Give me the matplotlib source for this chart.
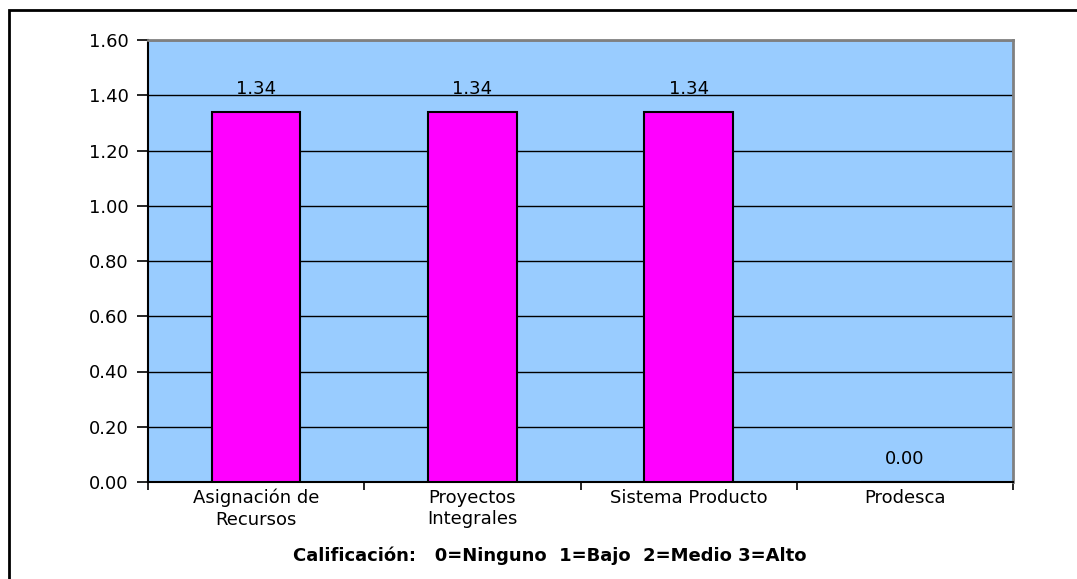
import matplotlib.pyplot as plt
from matplotlib.patches import Rectangle

plt.rcParams['font.family'] = ['DejaVu Sans']

programas = ['Asignación de\nRecursos', 'Proyectos\nIntegrales', 'Sistema Producto', 'Prodesca']
calificacion = [1.34, 1.34, 1.34, 0.00]
yticks = [0.0, 0.2, 0.4, 0.6, 0.8, 1.0, 1.2, 1.4, 1.6]

W, H = 1077, 579
fig = plt.figure(figsize=(W / 100, H / 100), dpi=100)
ax = fig.add_axes([148 / W, 1 - 482 / H, (1013 - 148) / W, (482 - 40) / H])

# marco exterior del grafico
fig.patches.append(Rectangle((9 / W, -0.05), 1.2, 1 - 10 / H + 0.05, transform=fig.transFigure,
                             fill=False, edgecolor='black', linewidth=2, zorder=0))

ax.set_facecolor('#99CCFF')
x = range(len(programas))
barras = ax.bar(x, calificacion, width=0.41, color='#FF00FF', edgecolor='black', linewidth=1.5, zorder=3)

for xi, v in zip(x, calificacion):
    ax.text(xi, v + 0.05, f'{v:.2f}', ha='center', va='bottom', fontsize=13, zorder=4)

ax.set_xlim(-0.5, len(programas) - 0.5)
ax.set_ylim(0, 1.6)
ax.set_yticks(yticks)
ax.set_yticklabels([f'{t:.2f}' for t in yticks], fontsize=13)
ax.yaxis.grid(True, color='black', linewidth=1)
ax.set_axisbelow(True)

ax.set_xticks(x)
ax.set_xticklabels(programas, fontsize=13, linespacing=1.25)
ax.set_xticks([i - 0.5 for i in range(len(programas) + 1)], minor=True)
ax.tick_params(axis='x', which='major', length=0, pad=5)
ax.tick_params(axis='x', which='minor', length=6, width=1.2, direction='out')
ax.tick_params(axis='y', length=8, width=1.2, direction='out', pad=6)

ax.spines['left'].set_linewidth(1.5)
ax.spines['bottom'].set_linewidth(1.5)
for s in ['top', 'right']:
    ax.spines[s].set_color('#808080')
    ax.spines[s].set_linewidth(2)

ax.set_xlabel('Calificación:   0=Ninguno  1=Bajo  2=Medio 3=Alto', fontsize=13,
              fontweight='bold')
ax.xaxis.set_label_coords((550 - 148) / (1013 - 148), -(556 - 482) / (482 - 40), transform=ax.transAxes)
ax.xaxis.label.set_va('center')

fig.savefig('out.png', dpi=100)
